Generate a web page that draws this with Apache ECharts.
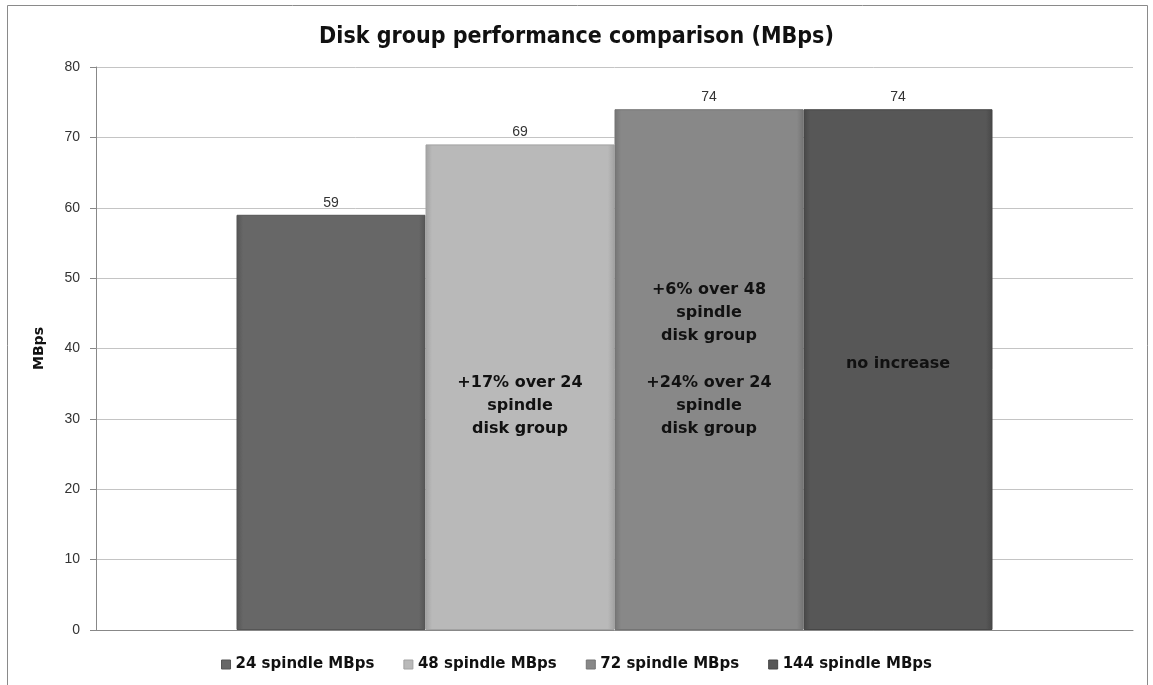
<!DOCTYPE html>
<html>
<head>
<meta charset="utf-8">
<style>
  html, body { margin: 0; padding: 0; background: #fff; }
  #chart { width: 1153px; height: 685px; }
</style>
<script src="https://cdn.jsdelivr.net/npm/echarts@6/dist/echarts.min.js"></script>
</head>
<body>
<div id="chart"></div>
<script>
// Single category with four disk-group configurations side by side
const categories = ['Disk group'];
const seriesNames = ['24 spindle MBps', '48 spindle MBps', '72 spindle MBps', '144 spindle MBps'];
const seriesValues = [59, 69, 74, 74];
const yTicks = { min: 0, max: 80, interval: 10 };

// Call-out notes written inside the bars: [series index, y value, text]
const notes = [
  [1, 31.8, '+17% over 24\nspindle\ndisk group'],
  [2, 45.0, '+6% over 48\nspindle\ndisk group'],
  [2, 31.8, '+24% over 24\nspindle\ndisk group'],
  [3, 37.8, 'no increase']
];

const baseColors = ['#676767', '#b9b9b9', '#888888', '#575757'];
const edgeColors = ['#555555', '#a2a2a2', '#747474', '#474747'];
const boldFont = 'DejaVu Sans, sans-serif';

function barFill(i) {
  return {
    type: 'linear', x: 0, y: 0, x2: 1, y2: 0,
    colorStops: [
      { offset: 0, color: edgeColors[i] },
      { offset: 0.035, color: baseColors[i] },
      { offset: 0.965, color: baseColors[i] },
      { offset: 1, color: edgeColors[i] }
    ]
  };
}

const chart = echarts.init(document.getElementById('chart'), null, { renderer: 'canvas' });

const series = seriesNames.map((name, i) => {
  const myNotes = notes.filter(n => n[0] === i);
  return {
    name: name,
    type: 'bar',
    barWidth: 189,
    barGap: '0%',
    data: [seriesValues[i]],
    itemStyle: {
      color: barFill(i),
      borderColor: edgeColors[i],
      borderWidth: 1
    },
    label: {
      show: true,
      position: 'top',
      distance: 5,
      color: '#333',
      fontSize: 14,
      fontFamily: 'Liberation Sans, sans-serif'
    },
    emphasis: { disabled: true },
    markPoint: myNotes.length ? {
      symbol: 'rect',
      symbolSize: 0,
      silent: true,
      label: {
        show: true,
        position: 'inside',
        color: '#111',
        fontSize: 16,
        fontWeight: 'bold',
        lineHeight: 23,
        align: 'center',
        fontFamily: boldFont,
        formatter: p => p.name
      },
      data: myNotes.map(n => ({ name: n[2], coord: [categories[0], n[1]] }))
    } : undefined
  };
});

chart.setOption({
  animation: false,
  backgroundColor: '#fff',
  title: {
    text: 'Disk group performance comparison (MBps)',
    left: 'center',
    top: 21,
    textStyle: { fontSize: 23, fontWeight: 'bold', color: '#111', fontFamily: 'DejaVu Sans Condensed, DejaVu Sans, sans-serif' }
  },
  legend: {
    bottom: 8,
    left: 'center',
    itemWidth: 9,
    itemHeight: 9,
    itemGap: 29,
    icon: 'rect',
    textStyle: { fontSize: 15, fontWeight: 'bold', color: '#111', fontFamily: boldFont },
    data: seriesNames.map((n, i) => ({ name: n, itemStyle: { color: baseColors[i], borderColor: edgeColors[i], borderWidth: 1 } }))
  },
  grid: { left: 96, right: 20, top: 67, bottom: 55, containLabel: false },
  xAxis: {
    type: 'category',
    data: categories,
    axisLine: { lineStyle: { color: '#888' } },
    axisTick: { show: false },
    axisLabel: { show: false }
  },
  yAxis: {
    type: 'value',
    min: yTicks.min,
    max: yTicks.max,
    interval: yTicks.interval,
    name: 'MBps',
    nameLocation: 'middle',
    nameRotate: 90,
    nameGap: 50,
    nameTextStyle: { fontSize: 14, fontWeight: 'bold', color: '#111', fontFamily: boldFont },
    axisLine: { show: true, lineStyle: { color: '#888' } },
    axisTick: { show: true, length: 6, lineStyle: { color: '#888' } },
    axisLabel: { color: '#333', fontSize: 14, margin: 16, fontFamily: 'Liberation Sans, sans-serif' },
    splitLine: { lineStyle: { color: '#c4c4c4' } }
  },
  graphic: [{
    type: 'rect',
    silent: true,
    shape: { x: 7.5, y: 5.5, width: 1140, height: 690 },
    style: { fill: 'none', stroke: '#8a8a8a', lineWidth: 1 }
  }],
  series: series
});
</script>
</body>
</html>
